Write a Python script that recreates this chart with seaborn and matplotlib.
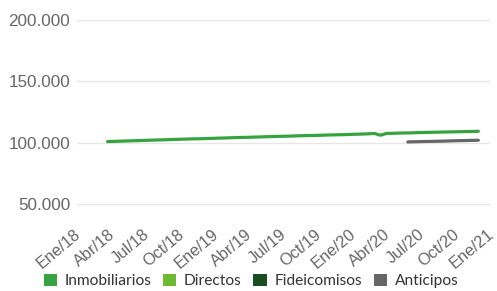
import pandas as pd
import numpy as np
import matplotlib
matplotlib.use("Agg")
import matplotlib.pyplot as plt
import matplotlib.ticker as mticker
import matplotlib.transforms as mtransforms
from matplotlib.patches import Patch
import seaborn as sns

# Series: Inmobiliarios (green), Anticipos (grey); Directos / Fideicomisos have no data shown
inmob_dates = ["2018-03-23", "2018-04-01", "2018-05-01", "2018-06-01", "2018-07-01", "2018-08-01",
               "2018-09-01", "2018-10-01", "2018-11-01", "2018-12-01", "2019-01-01", "2019-02-01",
               "2019-03-01", "2019-04-01", "2019-05-01", "2019-06-01", "2019-07-01", "2019-08-01",
               "2019-09-01", "2019-10-01", "2019-11-01", "2019-12-01", "2020-01-01", "2020-02-01",
               "2020-03-01", "2020-03-16", "2020-04-01", "2020-05-01", "2020-06-01", "2020-07-01",
               "2020-08-01", "2020-09-01", "2020-10-01", "2020-11-01", "2020-12-01"]
inmob_values = [100800, 100900, 101200, 101500, 101800, 102100,
                102400, 102700, 103000, 103200, 103500, 103800,
                104100, 104300, 104600, 104900, 105100, 105400,
                105700, 105900, 106200, 106400, 106700, 107000,
                107400, 106000, 107400, 107700, 107900, 108200,
                108400, 108600, 108800, 109000, 109200]

antic_dates = ["2020-05-28", "2020-06-01", "2020-07-01", "2020-08-01", "2020-09-01",
               "2020-10-01", "2020-11-01", "2020-12-01"]
antic_values = [100500, 100600, 100800, 101000, 101200, 101500, 101700, 101900]

series_names = ["Inmobiliarios", "Directos", "Fideicomisos", "Anticipos"]
series_colors = ["#36a33f", "#6fba33", "#1b4d22", "#666666"]

tick_dates = ["2018-01-01", "2018-04-01", "2018-07-01", "2018-10-01", "2019-01-01", "2019-04-01",
              "2019-07-01", "2019-10-01", "2020-01-01", "2020-04-01", "2020-07-01", "2020-10-01",
              "2021-01-01"]
tick_labels = ["Ene/18", "Abr/18", "Jul/18", "Oct/18", "Ene/19", "Abr/19", "Jul/19", "Oct/19",
               "Ene/20", "Abr/20", "Jul/20", "Oct/20", "Ene/21"]

df = pd.concat([
    pd.DataFrame({"fecha": pd.to_datetime(inmob_dates), "valor": inmob_values, "serie": "Inmobiliarios"}),
    pd.DataFrame({"fecha": pd.to_datetime(antic_dates), "valor": antic_values, "serie": "Anticipos"}),
])

sns.set_theme(style="white")
plt.rcParams["font.family"] = ["Liberation Sans", "DejaVu Sans"]

fig = plt.figure(figsize=(4.97, 2.91), dpi=100)
ax = fig.add_axes([77 / 497, 1 - 210 / 291, 413 / 497, 190 / 291])

palette = dict(zip(series_names, series_colors))
sns.lineplot(data=df, x="fecha", y="valor", hue="serie", palette=palette, linewidth=2.3,
             legend=False, ax=ax)
for line in ax.get_lines():
    line.set_solid_capstyle("round")

ax.set_xlim(pd.Timestamp("2018-01-01"), pd.Timestamp("2021-01-01"))
ax.set_ylim(45000, 200000)
ax.set_yticks([50000, 100000, 150000, 200000])
ax.yaxis.set_major_formatter(mticker.FuncFormatter(lambda v, p: f"{int(v):,}".replace(",", ".")))
ax.set_xticks(pd.to_datetime(tick_dates))
ax.set_xticklabels(tick_labels, rotation=40, ha="right", rotation_mode="anchor")
ax.tick_params(axis="x", length=0, pad=12, labelsize=11.8, labelcolor="#666666")
ax.tick_params(axis="y", length=0, pad=5, labelsize=12.3, labelcolor="#666666")
shift = mtransforms.ScaledTranslation(-3 / 100, 0, fig.dpi_scale_trans)
for lbl in ax.get_xticklabels():
    lbl.set_transform(lbl.get_transform() + shift)
ax.set_xlabel("")
ax.set_ylabel("")
ax.grid(axis="y", color="#e6e6e6", linewidth=1)
ax.grid(axis="x", visible=False)
sns.despine(ax=ax, left=True, bottom=True)

handles = [Patch(facecolor=c, edgecolor="none", label=n) for n, c in zip(series_names, series_colors)]
fig.legend(handles=handles, loc="center", bbox_to_anchor=(251 / 497, 1 - 281 / 291), ncol=4,
           frameon=False, prop={"family": "Lato", "size": 11.2}, handlelength=0.85,
           handleheight=0.85, handletextpad=0.5, columnspacing=0.75, labelcolor="#333333")

fig.savefig("out.png", dpi=100)
